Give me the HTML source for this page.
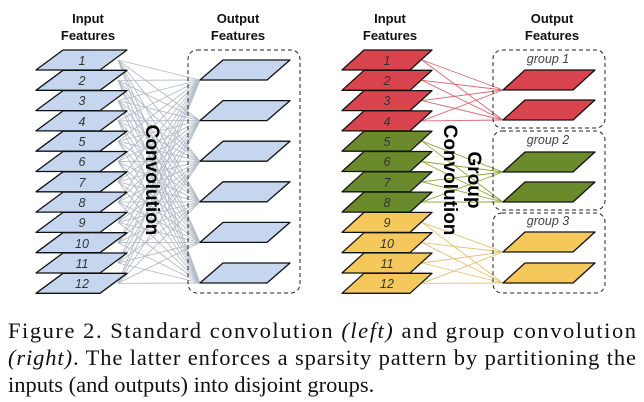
<!DOCTYPE html>
<html><head><meta charset="utf-8"><style>
html,body{margin:0;padding:0;background:#fff;width:644px;height:402px;overflow:hidden}
svg{display:block}
.h{font-family:"Liberation Sans",sans-serif;font-weight:bold;font-size:13px;text-anchor:middle;fill:#111}
.n{font-family:"Liberation Sans",sans-serif;font-style:italic;font-size:12.5px;text-anchor:middle;fill:#333}
.g{font-family:"Liberation Sans",sans-serif;font-style:italic;font-size:12.5px;text-anchor:middle;fill:#444}
.c{font-family:"Liberation Sans",sans-serif;font-weight:bold;font-size:19px;text-anchor:middle;fill:#000}
.cap{font-family:"Liberation Serif",serif;font-size:22.5px;fill:#111}
</style></head><body>
<svg id="s" width="644" height="402" xmlns="http://www.w3.org/2000/svg">
<g id="lines"></g>
<rect x="188" y="50" width="112" height="243" rx="9" fill="none" stroke="#222" stroke-dasharray="4,3"/>
<rect x="493" y="50" width="112" height="78" rx="9" fill="none" stroke="#222" stroke-dasharray="4,3"/>
<rect x="493" y="131" width="112" height="79" rx="9" fill="none" stroke="#222" stroke-dasharray="4,3"/>
<rect x="493" y="213" width="112" height="80" rx="9" fill="none" stroke="#222" stroke-dasharray="4,3"/>
<g id="shapes"></g>
<text class="h" x="88" y="23">Input</text><text class="h" x="88" y="40">Features</text>
<text class="h" x="238" y="23">Output</text><text class="h" x="238" y="40">Features</text>
<text class="h" x="390" y="23">Input</text><text class="h" x="390" y="40">Features</text>
<text class="h" x="552" y="23">Output</text><text class="h" x="552" y="40">Features</text>
<g class="n">
<text x="82" y="65">1</text><text x="82" y="85">2</text><text x="82" y="105">3</text><text x="82" y="126">4</text><text x="82" y="146">5</text><text x="82" y="166">6</text><text x="82" y="187">7</text><text x="82" y="207">8</text><text x="82" y="227">9</text><text x="82" y="248">10</text><text x="82" y="268">11</text><text x="82" y="288">12</text>
</g>
<g class="n">
<text x="387" y="65">1</text><text x="387" y="85">2</text><text x="387" y="105">3</text><text x="387" y="126">4</text><text x="387" y="146">5</text><text x="387" y="166">6</text><text x="387" y="187">7</text><text x="387" y="207">8</text><text x="387" y="227">9</text><text x="387" y="248">10</text><text x="387" y="268">11</text><text x="387" y="288">12</text>
</g>
<text class="g" x="548" y="63">group 1</text>
<text class="g" x="548" y="144">group 2</text>
<text class="g" x="548" y="225">group 3</text>
<text class="c" transform="translate(146,180) rotate(90)">Convolution</text>
<text class="c" transform="translate(444,180) rotate(90)">Convolution</text>
<text class="c" transform="translate(468,180) rotate(90)">Group</text>
<text class="cap" x="8" y="338" textLength="628" lengthAdjust="spacing">Figure 2. Standard convolution <tspan font-style="italic">(left)</tspan> and group convolution</text>
<text class="cap" x="8" y="365" textLength="628" lengthAdjust="spacing"><tspan font-style="italic">(right)</tspan>. The latter enforces a sparsity pattern by partitioning the</text>
<text class="cap" x="8" y="392">inputs (and outputs) into disjoint groups.</text>
</svg>
<script>
var NS="http://www.w3.org/2000/svg",L=document.getElementById("lines"),S=document.getElementById("shapes");
function line(x1,y1,x2,y2,c){var l=document.createElementNS(NS,"line");l.setAttribute("x1",x1);l.setAttribute("y1",y1);l.setAttribute("x2",x2);l.setAttribute("y2",y2);l.setAttribute("stroke",c);l.setAttribute("stroke-width","0.9");L.appendChild(l);}
function para(tl,tr,bl,br,t,h,f){var p=document.createElementNS(NS,"polygon");p.setAttribute("points",tl+","+t+" "+tr+","+t+" "+br+","+(t+h)+" "+bl+","+(t+h));p.setAttribute("fill",f);p.setAttribute("stroke","#111");p.setAttribute("stroke-width","1.3");p.setAttribute("stroke-linejoin","round");S.appendChild(p);}
var inT=[];for(var i=0;i<12;i++)inT.push(50+20.3*i);
var outL=[60,100.6,141.2,181.8,222.4,263];
for(var i=0;i<12;i++)for(var j=0;j<6;j++)line(118,inT[i]+10,200,outL[j]+20,"#b4bcc8");
var outR=[70,100,152,182,232,263],cols=["#d9444e","#6a8a2c","#f5c85c"],lc=["#d86a74","#8da33c","#e2c274"];
for(var i=0;i<12;i++){var g=Math.floor(i/4);for(var k=0;k<2;k++)line(422,inT[i]+10,503,outR[g*2+k]+20,lc[g]);}
for(var i=0;i<12;i++)para(63,127,36,100,inT[i],20,"#c6d6ef");
for(var j=0;j<6;j++)para(223,290,200,267,outL[j],20,"#c6d6ef");
for(var i=0;i<12;i++)para(364,432,342,410,inT[i],20,cols[Math.floor(i/4)]);
for(var j=0;j<6;j++)para(525,595,503,573,outR[j],20,cols[Math.floor(j/2)]);
</script>
</body></html>
